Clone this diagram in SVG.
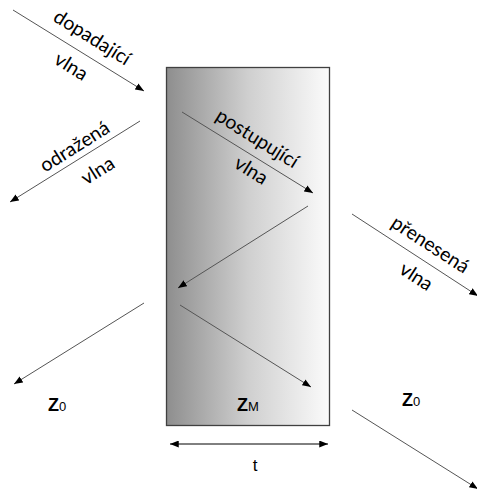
<svg xmlns="http://www.w3.org/2000/svg" width="477" height="490" viewBox="0 0 477 490">
  <defs>
    <linearGradient id="slab" x1="0" y1="0" x2="1" y2="0">
      <stop offset="0" stop-color="#8e8e8e"/>
      <stop offset="0.5" stop-color="#cfcfcf"/>
      <stop offset="1" stop-color="#fbfbfb"/>
    </linearGradient>
    <marker id="head" viewBox="0 0 10 8" refX="10" refY="4" markerWidth="9" markerHeight="7" markerUnits="userSpaceOnUse" orient="auto">
      <path d="M0,0 L10,4 L0,8 Z" fill="#000"/>
    </marker>
    <marker id="tail" viewBox="0 0 10 8" refX="0" refY="4" markerWidth="9" markerHeight="7" markerUnits="userSpaceOnUse" orient="auto">
      <path d="M10,0 L0,4 L10,8 Z" fill="#000"/>
    </marker>
  </defs>
  <style>
    .wave { stroke: #555; stroke-width: 1; fill: none; marker-end: url(#head); }
    .lbl { font-family: Lato, "Open Sans", sans-serif; font-size: 19.5px; fill: #000; text-anchor: middle; }
    .z { font-family: "Liberation Sans", Arial, sans-serif; font-size: 18px; font-weight: bold; fill: #000; }
    .zs { font-family: "Liberation Sans", Arial, sans-serif; font-size: 13px; font-weight: normal; }
    .dim { font-family: "Liberation Sans", Arial, sans-serif; font-size: 17px; fill: #000; text-anchor: middle; }
  </style>

  <!-- layer M -->
  <g id="slab-m">
    <rect x="166.5" y="67.5" width="163" height="358" fill="url(#slab)" stroke="#404040" stroke-width="1.3"/>
  </g>

  <!-- wave paths -->
  <g id="connectors">
    <line class="wave" x1="13" y1="10" x2="144" y2="91"/>
    <line class="wave" x1="140" y1="121" x2="10" y2="202"/>
    <line class="wave" x1="182" y1="112" x2="313" y2="193"/>
    <line class="wave" x1="308" y1="206" x2="178" y2="288"/>
    <line class="wave" x1="144" y1="303" x2="14" y2="384"/>
    <line class="wave" x1="180" y1="305" x2="311" y2="387"/>
    <line class="wave" x1="352" y1="214" x2="478" y2="296"/>
    <line class="wave" x1="352" y1="410" x2="478" y2="489"/>
    <line x1="170" y1="444" x2="328" y2="444" stroke="#000" stroke-width="1" marker-start="url(#tail)" marker-end="url(#head)"/>
  </g>

  <g id="incident">
    <g transform="translate(92,38) rotate(32)"><text class="lbl" x="0" y="6">dopadající</text></g>
    <g transform="translate(71,67) rotate(32)"><text class="lbl" x="0" y="6">vlna</text></g>
  </g>
  <g id="reflected">
    <g transform="translate(75,147) rotate(-32)"><text class="lbl" x="0" y="6">odražená</text></g>
    <g transform="translate(98,171) rotate(-32)"><text class="lbl" x="0" y="6">vlna</text></g>
  </g>
  <g id="propagating">
    <g transform="translate(257,139) rotate(32)"><text class="lbl" x="0" y="6">postupující</text></g>
    <g transform="translate(251,171) rotate(32)"><text class="lbl" x="0" y="6">vlna</text></g>
  </g>
  <g id="transmitted">
    <g transform="translate(430,245) rotate(33)"><text class="lbl" x="0" y="6">přenesená</text></g>
    <g transform="translate(416,277) rotate(33)"><text class="lbl" x="0" y="6">vlna</text></g>
  </g>

  <g id="z0-left"><text class="z" x="48" y="411">Z<tspan class="zs">0</tspan></text></g>
  <g id="zm"><text class="z" x="237" y="411">Z<tspan class="zs">M</tspan></text></g>
  <g id="z0-right"><text class="z" x="402" y="406">Z<tspan class="zs">0</tspan></text></g>
  <g id="thickness"><text class="dim" x="255" y="471">t</text></g>
</svg>
